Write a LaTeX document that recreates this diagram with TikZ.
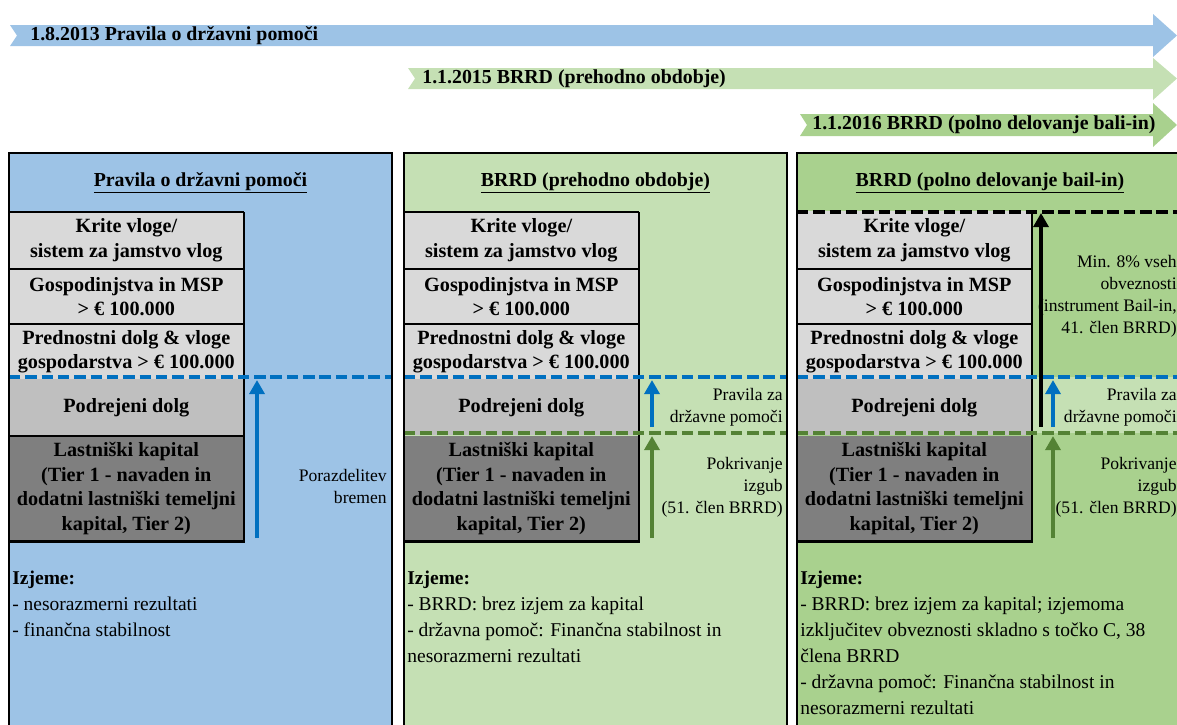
\documentclass[tikz,border=0pt]{standalone}
\usepackage{fontspec}
\setmainfont{Liberation Serif}
\usetikzlibrary{arrows.meta}

\definecolor{aidblue}{HTML}{9DC3E6}
\definecolor{transgreen}{HTML}{C5E0B4}
\definecolor{fullgreen}{HTML}{A9D18E}
\definecolor{boxlight}{HTML}{D9D9D9}
\definecolor{boxmid}{HTML}{BFBFBF}
\definecolor{boxdark}{HTML}{7F7F7F}
\definecolor{lineblue}{HTML}{0070C0}
\definecolor{linegreen}{HTML}{548235}

\begin{document}
\begin{tikzpicture}[x=0.02cm, y=-0.02cm,
    bandtext/.style={anchor=west, inner sep=0pt, font=\bfseries\fontsize{11.3}{13}\selectfont},
    headtext/.style={inner sep=0pt, font=\bfseries\fontsize{11.3}{13}\selectfont},
    layer/.style={anchor=north west, inner sep=0pt, minimum width=4.68cm, align=center,
                  font=\bfseries\fontsize{11.5}{14}\selectfont},
    edge/.style={draw=black, line width=1.2pt},
    sidetext/.style={anchor=east, inner sep=0pt, align=right, font=\fontsize{10}{12.5}\selectfont},
    notetext/.style={anchor=north west, inner sep=0pt, align=left, font=\fontsize{11.1}{14.7}\selectfont},
    dashblue/.style={draw=lineblue, line width=1.8pt, dash pattern=on 6.5pt off 2.8pt},
    dashgreen/.style={draw=linegreen, line width=1.8pt, dash pattern=on 6.5pt off 2.8pt},
    dashblack/.style={draw=black, line width=1.8pt, dash pattern=on 6.5pt off 2.8pt},
    uparrow/.style={line width=2.2pt, -{Triangle[width=8.5pt, length=8pt]}}]

  \useasboundingbox (0,0) rectangle (1177,724);

  % time line
  \fill[aidblue] (10,25) -- (1153,25) -- (1153,14) -- (1177,35.5) -- (1153,57) -- (1153,46)
    -- (10,46) -- (17,35.5) -- cycle;
  \fill[transgreen] (408,68) -- (1153,68) -- (1153,58) -- (1177,78.5) -- (1153,100) -- (1153,89)
    -- (408,89) -- (415,78.5) -- cycle;
  \fill[fullgreen] (800,114) -- (1153,114) -- (1153,103) -- (1177,125) -- (1153,147) -- (1153,136)
    -- (800,136) -- (807,125) -- cycle;
  \node[bandtext] (t2013) at (30,35.5) {1.8.2013 Pravila o državni pomoči};
  \node[bandtext] (t2015) at (422,78.5) {1.1.2015 BRRD (prehodno obdobje)};
  \node[bandtext] (t2016) at (812,125) {1.1.2016 BRRD (polno delovanje bali-in)};

  % panels
  \fill[aidblue] (9,153) rectangle (392,740);
  \fill[transgreen] (404,153) rectangle (787,740);
  \fill[fullgreen] (797,153) rectangle (1190,740);
  \fill[transgreen] (1032,377) rectangle (1190,433);

  \node[headtext] (h1) at (200.5,183) {\underline{Pravila o državni pomoči}};
  \node[headtext] (h2) at (595.5,183) {\underline{BRRD (prehodno obdobje)}};
  \node[headtext] (h3) at (990,183) {\underline{BRRD (polno delovanje bail-in)}};

  % liability stacks
  \foreach \x/\p in {9/a, 404/b, 797/c} {
    \node[layer, fill=boxlight, minimum height=1.12cm] (\p1) at (\x,212) {Krite vloge/\\sistem za jamstvo vlog};
    \node[layer, fill=boxlight, minimum height=1.10cm] (\p2) at (\p1.south west) {Gospodinjstva in MSP\\> € 100.000};
    \node[layer, fill=boxlight, minimum height=1.08cm] (\p3) at (\p2.south west) {Prednostni dolg \& vloge\\gospodarstva > € 100.000};
    \node[layer, fill=boxmid, minimum height=1.12cm] (\p4) at (\p3.south west) {Podrejeni dolg};
    \node[layer, fill=boxdark, minimum height=2.10cm] (\p5) at (\p4.south west) {Lastniški kapital\\(Tier 1 - navaden in\\dodatni lastniški temeljni\\kapital, Tier 2)};
    \draw[edge] (\p1.north east) -- (\p5.south east) -- (\p5.south west);
    \draw[edge] (\p1.south west) -- (\p1.south east);
    \draw[edge] (\p2.south west) -- (\p2.south east);
  }
  \draw[edge] (a1.north west) -- (a1.north east);
  \draw[edge] (b1.north west) -- (b1.north east);
  \draw[edge] (a4.south west) -- (a4.south east);
  \draw[draw=boxlight, line width=1.5pt] (c1.north west) -- (c1.north east);

  % thresholds
  \draw[dashblue] (9,377) -- (392,377);
  \draw[dashblue] (404,377) -- (787,377);
  \draw[dashblue] (797,377) -- (1190,377);
  \draw[dashgreen] (404,433) -- (787,433);
  \draw[dashgreen] (797,433) -- (1190,433);
  \draw[dashblack] (797,212) -- (1190,212);

  % side labels
  \node[sidetext] (l1) at (387,486.5) {Porazdelitev\\bremen};
  \node[sidetext] (l2) at (783,407) {Pravila za\\državne pomoči};
  \node[sidetext] (l3) at (783,487.5) {Pokrivanje\\izgub\\(51. člen BRRD)};
  \node[sidetext] (l4) at (1177,296.5) {Min. 8\% vseh\\obveznosti\\(instrument Bail-in,\\41. člen BRRD)};
  \node[sidetext] (l5) at (1177,407) {Pravila za\\državne pomoči};
  \node[sidetext] (l6) at (1177,487.5) {Pokrivanje\\izgub\\(51. člen BRRD)};

  % loss absorption arrows
  \coordinate (a1s) at (257,538);  \coordinate (a1e) at (257,380);
  \coordinate (b1s) at (652,427);  \coordinate (b1e) at (652,380);
  \coordinate (b2s) at (652,538);  \coordinate (b2e) at (652,436);
  \coordinate (c0s) at (1041,427); \coordinate (c0e) at (1041,213);
  \coordinate (c1s) at (1053,427); \coordinate (c1e) at (1053,380);
  \coordinate (c2s) at (1053,538); \coordinate (c2e) at (1053,436);
  \draw[uparrow, draw=lineblue, fill=lineblue] (a1s) -- (a1e);
  \draw[uparrow, draw=lineblue, fill=lineblue] (b1s) -- (b1e);
  \draw[uparrow, draw=linegreen, fill=linegreen] (b2s) -- (b2e);
  \draw[uparrow, draw=black, fill=black] (c0s) -- (c0e);
  \draw[uparrow, draw=lineblue, fill=lineblue] (c1s) -- (c1e);
  \draw[uparrow, draw=linegreen, fill=linegreen] (c2s) -- (c2e);

  % exceptions
  \node[notetext] (n1) at (12,571) {\textbf{Izjeme:}\\- nesorazmerni rezultati\\- finančna stabilnost};
  \node[notetext] (n2) at (407,571) {\textbf{Izjeme:}\\- BRRD: brez izjem za kapital\\- državna pomoč: Finančna stabilnost in\\nesorazmerni rezultati};
  \node[notetext] (n3) at (800,571) {\textbf{Izjeme:}\\- BRRD: brez izjem za kapital; izjemoma\\izključitev obveznosti skladno s točko C, 38\\člena BRRD\\- državna pomoč: Finančna stabilnost in\\nesorazmerni rezultati};

  % panel frames
  \draw[line width=1.5pt] (9,740) -- (9,153) -- (392,153) -- (392,740);
  \draw[line width=1.5pt] (404,740) -- (404,153) -- (787,153) -- (787,740);
  \draw[line width=1.5pt] (797,740) -- (797,153) -- (1190,153);
\end{tikzpicture}
\end{document}
